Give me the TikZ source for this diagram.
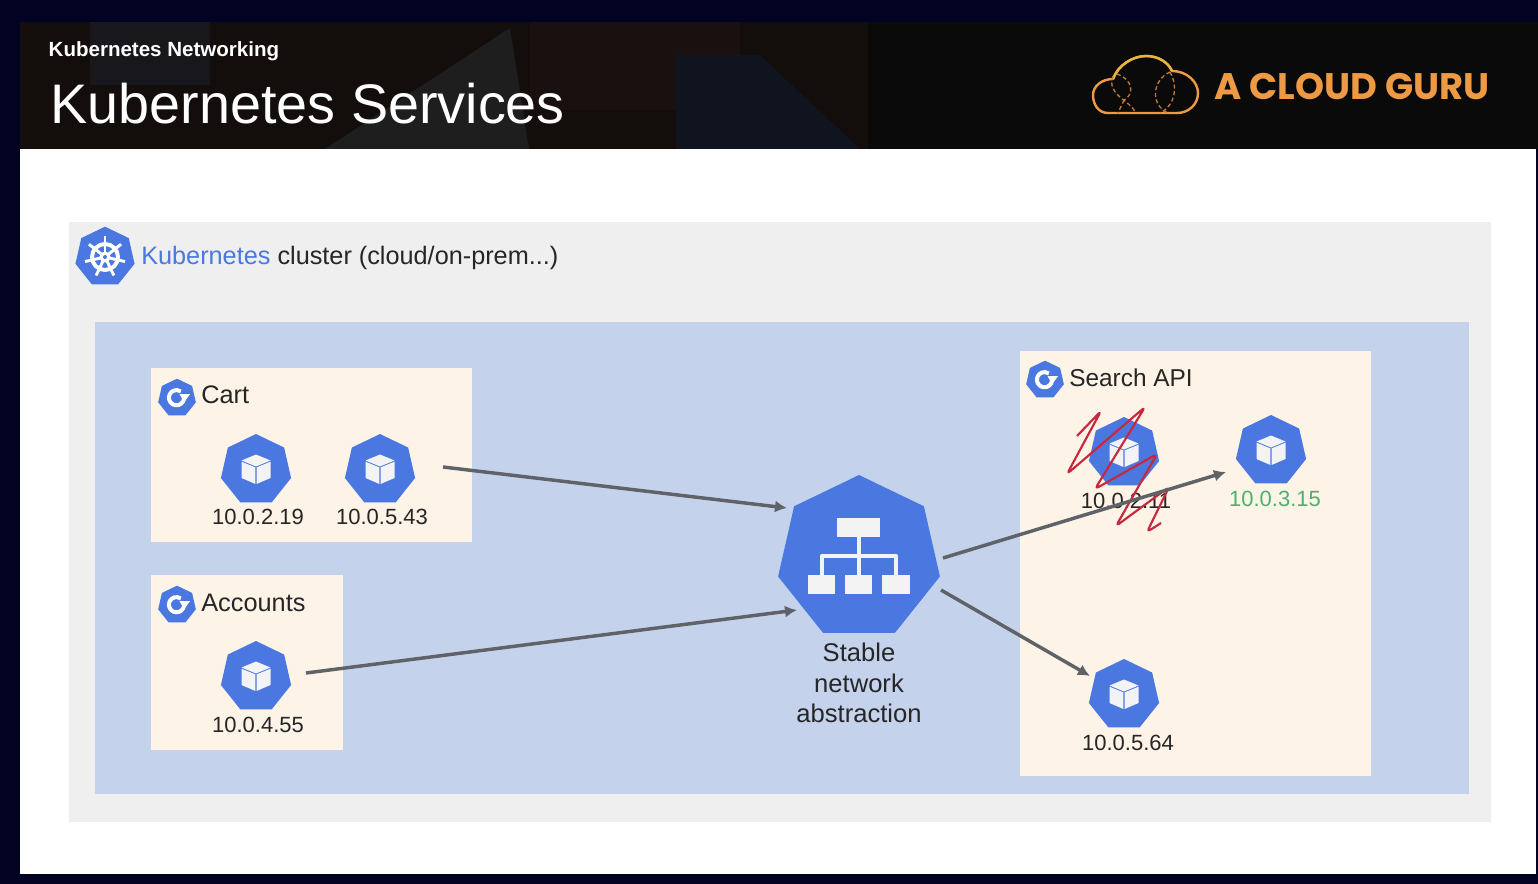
\documentclass[tikz,border=0pt]{standalone}
\usepackage{fontspec}
\setmainfont{Liberation Sans}
\newfontfamily\logofont{Poppins}
\usetikzlibrary{shapes.geometric, arrows.meta, calc}
\definecolor{frameblue}{HTML}{020322}
\definecolor{headblack}{HTML}{0A0A0A}
\definecolor{photodim}{HTML}{130D0C}
\definecolor{photoshirt}{HTML}{1F1E1E}
\definecolor{photoscarf}{HTML}{10141F}
\definecolor{photoface}{HTML}{1A100F}
\definecolor{photoleft}{HTML}{17171C}
\definecolor{clustergrey}{HTML}{EFEFEF}
\definecolor{nodeblue}{HTML}{C5D2EC}
\definecolor{setcream}{HTML}{FDF3E6}
\definecolor{k8sblue}{HTML}{4A78E0}
\definecolor{iconwhite}{HTML}{F3F3F3}
\definecolor{arrowgrey}{HTML}{5F6368}
\definecolor{podgreen}{HTML}{4CB06E}
\definecolor{scribble}{HTML}{C8283C}
\definecolor{guru}{HTML}{EE9A45}
\definecolor{guruyellow}{HTML}{E8B63C}

\begin{document}
\begin{tikzpicture}[x=0.75pt, y=-0.75pt, line join=round]
	\tikzstyle{hex}=[
	regular polygon,
	regular polygon sides=7,
	fill=k8sblue,
	inner sep=0pt,
	outer sep=0pt
	]
	\tikzstyle{podnode}=[hex, minimum size=54pt]
	\tikzstyle{setnode}=[hex, minimum size=29pt]
	\tikzstyle{clusternode}=[hex, minimum size=45.5pt]
	\tikzstyle{servicenode}=[hex, minimum size=124.5pt]
	\tikzstyle{iplabel}=[font=\fontsize{16.5}{20}\selectfont, text=black!85]
	\tikzstyle{setlabel}=[anchor=west, inner sep=0pt, font=\fontsize{19}{23}\selectfont, text=black!85]
	\tikzstyle{link}=[-{Latex[length=9pt,width=9pt]}, draw=arrowgrey, line width=2.6pt]
	\tikzset{
		podcube/.pic={
			\fill[iconwhite] (0,-15.5) -- (14.5,-9.5) -- (0,-3.5) -- (-14.5,-9.5) -- cycle;
			\fill[iconwhite] (-14.5,-8.3) -- (-0.6,-2.6) -- (-0.6,14) -- (-14.5,8) -- cycle;
			\fill[iconwhite] (14.5,-8.3) -- (0.6,-2.6) -- (0.6,14) -- (14.5,8) -- cycle;
		},
		seticon/.pic={
			\draw[white, line width=3pt] (-0.5,-0.3) ++(5:7.6) arc[start angle=5, end angle=305, radius=7.6];
			\fill[white] (2.5,-3.8) -- (13,-3.8) -- (7.2,4) -- cycle;
		}
	}
	% frame and header
	\fill[frameblue] (0,0) rectangle (1538,884);
	\fill[headblack] (20,22) rectangle (1538,149);
	\fill[photodim] (20,22) rectangle (868,149);
	\fill[photoleft] (90,22) rectangle (210,85);
	\fill[photoface] (530,22) rectangle (740,110);
	\fill[photoscarf] (676,55) -- (760,55) -- (860,149) -- (676,149) -- cycle;
	\fill[photoshirt] (325,149) -- (510,28) -- (529,149) -- cycle;
	\fill[white] (20,149) rectangle (1536,874);
	\node[anchor=west, font=\bfseries\fontsize{15.4}{18}\selectfont, text=white] (section) at (44,51) {Kubernetes Networking};
	\node[anchor=west, font=\fontsize{41.8}{50}\selectfont, text=white] (title) at (46,104) {Kubernetes Services};
	% logo
	\draw[guru, line width=1.8pt] (1108,113) .. controls (1098,113) and (1093,104) .. (1093,95) .. controls (1093,86) and (1102,79) .. (1113,79) .. controls (1118,65) and (1133,56) .. (1146,56) .. controls (1158,56) and (1168,62) .. (1172,71) .. controls (1187,71) and (1198,82) .. (1198,93) .. controls (1198,105) and (1188,113) .. (1177,113) -- cycle;
	\draw[guruyellow, line width=1.8pt] (1113,79) .. controls (1118,65) and (1133,56) .. (1146,56) .. controls (1158,56) and (1168,62) .. (1172,71);
	\draw[guru!80!black, line width=1pt, densely dashed] (1170,72) .. controls (1152,80) and (1150,105) .. (1168,113) (1170,72) .. controls (1178,85) and (1176,105) .. (1160,113);
	\draw[guru!80!black, line width=1pt, densely dashed] (1117,74) .. controls (1134,80) and (1134,95) .. (1124,100) (1113,76) .. controls (1106,95) and (1130,100) .. (1136,113) (1124,100) .. controls (1122,105) and (1120,108) .. (1118,113);
	\node[anchor=west, font=\logofont\bfseries\fontsize{27.7}{32}\selectfont, text=guru] (logo) at (1210,86) {A CLOUD GURU};
	% panels
	\fill[clustergrey] (69,222) rectangle (1491,822);
	\fill[nodeblue] (95,322) rectangle (1469,794);
	\fill[setcream] (151,368) rectangle (472,542);
	\fill[setcream] (151,575) rectangle (343,750);
	\fill[setcream] (1020,351) rectangle (1371,776);
	% cluster title
	\node[clusternode] (K8S) at (105,257) {};
	\foreach \ang in {270,321.43,...,630} {
		\draw[white, line width=2.2pt] (K8S.center) -- ++(\ang:20.5);
	}
	\draw[white, line width=3pt] (K8S.center) circle[radius=13];
	\fill[white] (K8S.center) circle[radius=5.5];
	\fill[k8sblue] (K8S.center) circle[radius=2];
	\node[anchor=west, font=\fontsize{18.95}{23}\selectfont, inner sep=0pt] (clustertitle) at (141,258) {\textcolor{k8sblue}{Kubernetes} \textcolor{black!85}{cluster (cloud/on-prem...)}};
	% replica sets
	\node[setnode] (CARTSET) at (177,398) {};
	\pic at (CARTSET.center) {seticon};
	\node[setlabel] (cartlabel) at (201,395) {Cart};
	\node[setnode] (ACCSET) at (177,605) {};
	\pic at (ACCSET.center) {seticon};
	\node[setlabel] (acclabel) at (201,603) {Accounts};
	\node[setnode] (SEARCHSET) at (1045,380) {};
	\pic at (SEARCHSET.center) {seticon};
	\node[setlabel, font=\fontsize{18.3}{23}\selectfont] (searchlabel) at (1069,378) {Search API};
	% pods
	\node[podnode] (A) at (256,470) {};
	\pic at (A.center) {podcube};
	\node[iplabel] (Aip) at (258,517) {10.0.2.19};
	\node[podnode] (B) at (380,470) {};
	\pic at (B.center) {podcube};
	\node[iplabel] (Bip) at (382,517) {10.0.5.43};
	\node[podnode] (C) at (256,677) {};
	\pic at (C.center) {podcube};
	\node[iplabel] (Cip) at (258,725) {10.0.4.55};
	\node[podnode] (D) at (1124,453) {};
	\pic at (D.center) {podcube};
	\node[iplabel] (Dip) at (1126,501) {10.0.2.11};
	\node[podnode] (E) at (1271,451) {};
	\pic at (E.center) {podcube};
	\node[iplabel, text=podgreen] (Eip) at (1275,499) {10.0.3.15};
	\node[podnode] (F) at (1124,695) {};
	\pic at (F.center) {podcube};
	\node[iplabel] (Fip) at (1128,743) {10.0.5.64};
	% service
	\node[servicenode] (SVC) at (859,558) {};
	\draw[iconwhite, line width=3.5pt] (859,537) -- (859,575) (822,575) -- (822,556) -- (896,556) -- (896,575);
	\fill[iconwhite] (837,518) rectangle (880,537);
	\fill[iconwhite] (808,575) rectangle (835,594);
	\fill[iconwhite] (845,575) rectangle (872,594);
	\fill[iconwhite] (882,575) rectangle (910,594);
	\node[align=center, font=\fontsize{19.2}{22.8}\selectfont, text=black!85] (svclabel) at (859,683) {Stable\\network\\abstraction};
	% scribble over the dead pod
	\draw[scribble, line width=1.6pt, rounded corners=3pt] (1077,436) -- (1101,411) -- (1067,474) -- (1145,407) -- (1095,489) -- (1157,454) -- (1116,526) -- (1169,487) -- (1147,532) -- (1161,523);
	% arrows
	\coordinate (Bout) at (443,467);
	\coordinate (Cout) at (306,673);
	\coordinate (SVCinA) at (787,508);
	\coordinate (SVCinB) at (797,610);
	\coordinate (SVCoutA) at (943,558);
	\coordinate (SVCoutB) at (941,590);
	\coordinate (Ein) at (1226,472);
	\coordinate (Fin) at (1090,676);
	\draw[link] (Bout) -- (SVCinA);
	\draw[link] (Cout) -- (SVCinB);
	\draw[link] (SVCoutA) -- (Ein);
	\draw[link] (SVCoutB) -- (Fin);
\end{tikzpicture}
\end{document}
